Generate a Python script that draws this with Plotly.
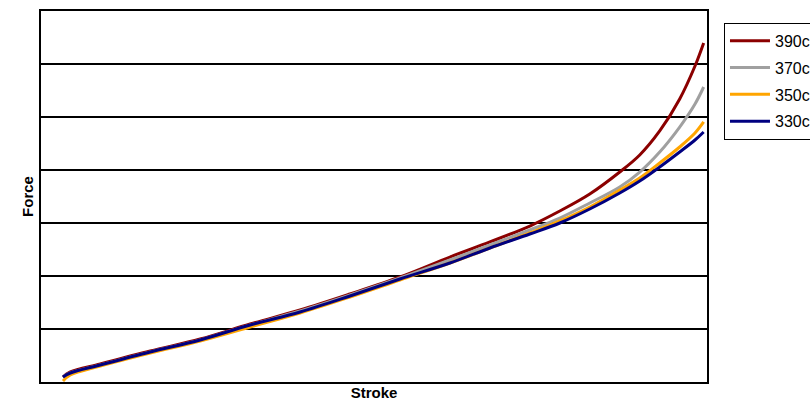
import plotly.graph_objects as go

# Stroke positions (relative units, 0-100)
stroke = [3.3, 4.4, 8.9, 16.4, 23.9, 31.4, 38.9, 46.4, 53.9, 61.4,
          67.4, 73.4, 77.9, 82.4, 86.9, 89.9, 92.9, 95.9, 98.2, 99.5]

force_390 = [0.094, 0.189, 0.340, 0.585, 0.811, 1.094, 1.358, 1.660, 1.981, 2.358,
             2.642, 2.943, 3.226, 3.547, 3.962, 4.283, 4.736, 5.340, 5.962, 6.396]
force_370 = [0.094, 0.170, 0.321, 0.566, 0.792, 1.075, 1.340, 1.642, 1.962, 2.302,
             2.585, 2.868, 3.094, 3.377, 3.679, 3.962, 4.340, 4.811, 5.245, 5.566]
force_350 = [0.019, 0.132, 0.302, 0.547, 0.774, 1.038, 1.302, 1.604, 1.925, 2.245,
             2.528, 2.811, 3.038, 3.302, 3.623, 3.849, 4.132, 4.434, 4.698, 4.906]
force_330 = [0.094, 0.170, 0.321, 0.566, 0.792, 1.075, 1.321, 1.623, 1.943, 2.245,
             2.528, 2.792, 3.000, 3.264, 3.566, 3.792, 4.057, 4.340, 4.566, 4.717]

series_names = ["390cc", "370cc", "350cc", "330cc"]
series_values = [force_390, force_370, force_350, force_330]
series_colors = ["#8B0000", "#A0A0A0", "#FFA500", "#000080"]

fig = go.Figure()
for name, vals, col in zip(series_names, series_values, series_colors):
    fig.add_trace(go.Scatter(
        x=stroke, y=vals, name=name, mode="lines",
        line=dict(color=col, width=3, shape="spline", smoothing=1.0),
        legendgroup=name,
    ))

font_family = "Liberation Sans, Arial, sans-serif"

fig.update_layout(
    width=810, height=404,
    margin=dict(l=41, r=103, t=11, b=22, autoexpand=False),
    paper_bgcolor="white", plot_bgcolor="white",
    font=dict(family=font_family, color="black"),
    showlegend=True,
    legend=dict(
        x=1.0255, y=0.968, xanchor="left", yanchor="top",
        bordercolor="black", borderwidth=1, bgcolor="white",
        font=dict(size=16, family=font_family, color="black"),
        tracegroupgap=3, itemwidth=40,
    ),
    xaxis=dict(
        range=[0, 100], showgrid=False, zeroline=False, showticklabels=False,
        ticks="", showline=True, mirror=True, linecolor="black", linewidth=2,
        title=dict(text="<b>Stroke</b>", font=dict(size=15, family=font_family), standoff=4),
        automargin=False,
    ),
    yaxis=dict(
        range=[0, 7], dtick=1, showgrid=True, gridcolor="black", gridwidth=1.5,
        zeroline=False, showticklabels=False, ticks="",
        showline=True, mirror=True, linecolor="black", linewidth=2,
        title=dict(text="<b>Force</b>", font=dict(size=15, family=font_family), standoff=2),
        automargin=False,
    ),
)

fig.write_html(
    "out.html",
    config={"displayModeBar": False},
    post_script="document.body.style.margin='0';document.body.style.overflow='hidden';",
)
